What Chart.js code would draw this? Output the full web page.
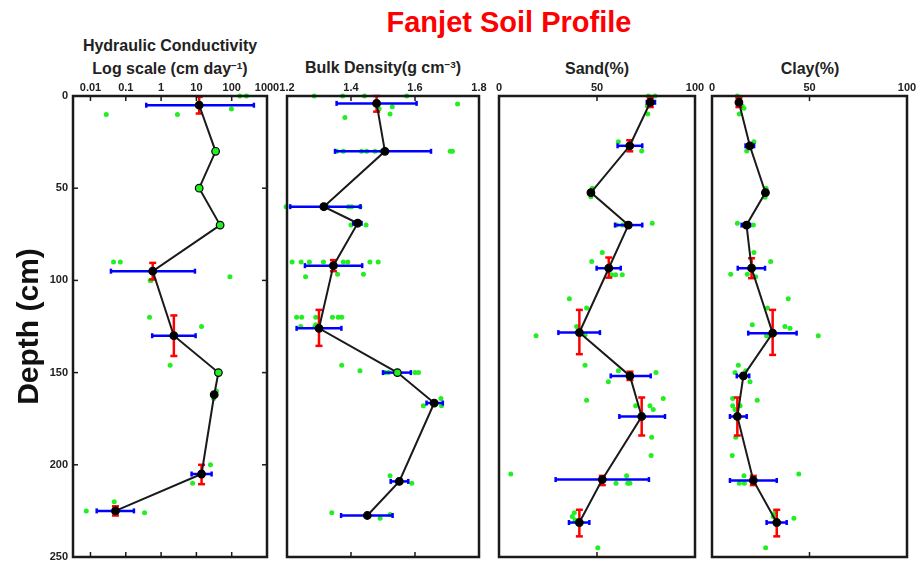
<!DOCTYPE html>
<html>
<head>
<meta charset="utf-8">
<script src="https://cdn.jsdelivr.net/npm/chart.js@4.4.1/dist/chart.umd.min.js"></script>
<style>
  body { margin: 0; width: 920px; height: 562px; overflow: hidden; background: #fff; position: relative;
         font-family: "Liberation Sans", Arial, sans-serif; }
  canvas { position: absolute; top: 0; }
  .t { position: absolute; font-weight: bold; white-space: nowrap; color: #222; line-height: 1;
       transform: translate(-50%, -50%); }
  .t sup { font-size: 0.62em; vertical-align: 0.55em; line-height: 0; }
  #main { color: #ff0000; font-size: 29px; }
  .h { font-size: 16px; }
</style>
</head>
<body>
<div class="t" id="main" style="left:509px;top:22px">Fanjet Soil Profile</div>
<div class="t h" style="left:170px;top:46px">Hydraulic Conductivity</div>
<div class="t h" style="left:170px;top:69px">Log scale (cm day<sup>−1</sup>)</div>
<div class="t h" style="left:383px;top:68px">Bulk Density(g cm<sup>−3</sup>)</div>
<div class="t h" style="left:597px;top:69px">Sand(%)</div>
<div class="t h" style="left:810px;top:69px">Clay(%)</div>

<canvas id="hc" width="282" height="580" style="left:0px"></canvas>
<canvas id="bd" width="232" height="580" style="left:267px"></canvas>
<canvas id="sand" width="236" height="580" style="left:479px"></canvas>
<canvas id="clay" width="228" height="580" style="left:692px"></canvas>

<script>
// depth axis (cm), shared by all panels
const depthTicks = [0, 50, 100, 150, 200, 250];

// Hydraulic conductivity (cm/day, log scale)
const hcTicks = [0.01, 0.1, 1, 10, 100, 1000];
const hcDepth = [5, 30, 50, 70, 95, 130, 150, 162, 205, 225];
const hcMean = [12, 35, 12, 47, 0.58, 2.3, 42, 32, 14, 0.051];
const hcLow = [0.38, null, null, null, 0.038, 0.56, null, null, 7.3, 0.015];
const hcHigh = [425, null, null, null, 9.1, 9.5, null, null, 27, 0.17];
const hcDepthLow = [0.5, null, null, null, 90.5, 119, null, null, 200, 222.5];
const hcDepthHigh = [9.5, null, null, null, 99.5, 141, null, null, 210.5, 227.5];
const hcGreenMean = [1, 2, 3, 6];
const hcDotDepth = [0, 0, 10, 10, 7, 90, 90, 100, 100, 98, 120, 125, 146, 160, 164, 200, 210, 220, 225, 226, 226];
const hcDotValue = [170, 260, 0.028, 2.9, 98, 0.045, 0.07, 0.49, 0.52, 89, 0.47, 14, 1.8, 37, 31, 25, 7.8, 0.047, 0.0076, 0.051, 0.34];

// Bulk density (g/cm3)
const bdTicks = [1.2, 1.4, 1.6, 1.8];
const bdDepth = [4, 30, 60, 69, 92, 126, 150, 166.5, 209, 227.5];
const bdMean = [1.48, 1.506, 1.315, 1.421, 1.345, 1.30, 1.545, 1.66, 1.551, 1.451];
const bdLow = [1.355, 1.35, 1.21, 1.407, 1.256, 1.23, 1.50, 1.636, 1.524, 1.369];
const bdHigh = [1.605, 1.65, 1.43, 1.433, 1.435, 1.37, 1.587, 1.687, 1.579, 1.53];
const bdDepthLow = [0, null, null, null, 89, 116, null, null, null, null];
const bdDepthHigh = [8.5, null, null, null, 95, 135.5, null, null, null, null];
const bdGreenMean = [6];
const bdDotDepth = [0, 0, 0, 0, 4.3, 5.8, 6.9, 9.8, 11.7,
  30, 30, 30, 30, 30, 30, 30, 30,
  60, 60, 60, 60, 60, 70, 70, 69,
  90, 90, 90, 90, 90, 90, 90, 90, 98, 96.7, 96.7,
  120, 120, 120, 120, 120, 120, 124, 125, 125,
  146, 149, 150, 150, 150, 150, 164, 168, 168, 206, 210, 226, 227, 229];
const bdDotValue = [1.285, 1.374, 1.442, 1.574, 1.733, 1.529, 1.488, 1.522, 1.381,
  1.355, 1.376, 1.433, 1.449, 1.475, 1.496, 1.71, 1.717,
  1.197, 1.327, 1.392, 1.402, 1.428, 1.40, 1.447, 1.415,
  1.216, 1.244, 1.27, 1.314, 1.376, 1.39, 1.459, 1.485, 1.258, 1.358, 1.439,
  1.23, 1.246, 1.29, 1.342, 1.36, 1.371, 1.29, 1.243, 1.287,
  1.371, 1.428, 1.506, 1.517, 1.6, 1.611, 1.681, 1.626, 1.683, 1.522, 1.59, 1.34, 1.522, 1.491];

// Sand (%)
const pctTicks = [0, 50, 100];
const sandDepth = [3.4, 27, 52.4, 70, 93.4, 128.3, 151.8, 173.8, 208, 231.3];
const sandMean = [77.2, 66.7, 46.9, 66, 56, 41, 66.8, 72.8, 52.7, 41];
const sandLow = [75.4, 60.5, null, 59.2, 49.8, 30.3, 57, 61.4, 28.9, 35.7];
const sandHigh = [79.6, 73.1, null, 73.1, 62.1, 51.5, 77.4, 84.7, 76.5, 46.1];
const sandDepthLow = [1, 24, null, null, 87.6, 116, 149.5, 163.5, 206, 224.4];
const sandDepthHigh = [6, 30, null, null, 98.5, 140, 154, 184.1, 211, 238.8];
const sandDotDepth = [0, 0, 5.4, 9.8, 24.8, 29.8, 50, 54.6, 69.9, 69.9, 69, 84.9, 89.8, 97, 97, 97, 110, 115,
  125, 129.5, 130, 146, 149, 150, 155, 165, 164, 168, 168, 170, 185, 195, 205, 206, 210, 210, 210, 226, 228, 230, 245];
const sandDotValue = [76.2, 79.6, 75.7, 75.9, 60.9, 72.8, 47.6, 46.9, 60, 63.1, 78.2, 52.7, 47.3, 57.5, 59.5, 62.9, 35.9, 44.7,
  39.6, 43.9, 18.9, 43.9, 60.9, 80.1, 55.8, 44.7, 83.8, 69.7, 77, 78.7, 77.9, 77.6, 6, 65.1, 59.7, 65.7, 66.8, 38.4, 37.4, 38.8, 50.4];

// Clay (%)
const clayDepth = [3.4, 27, 52.4, 70, 93.4, 128.6, 151.8, 173.8, 208.5, 231.3];
const clayMean = [13.8, 19.4, 27.4, 17.7, 20.3, 31.1, 16.1, 13, 21.2, 33.2];
const clayLow = [null, 17.2, null, 15.2, 13.2, 18.6, 12.7, 9.2, 9.2, 28];
const clayHigh = [null, 21.6, null, 19.5, 27.2, 43.4, 19.1, 17.8, 33.2, 38.3];
const clayDepthLow = [1, null, null, null, 88, 116, null, 163.5, 206, 224.4];
const clayDepthHigh = [6, null, null, null, 98.8, 140.4, null, 184.1, 211, 238.8];
const clayDotDepth = [0, 5.4, 6.7, 9.8, 24.8, 29.8, 50, 54.9, 69, 69.9, 84.9, 89.8, 96.7, 96.7, 98, 110, 115, 124, 125, 126,
  130, 130, 146, 150, 149, 155, 164, 165, 168, 168, 170, 185, 195, 205, 206, 210, 210, 226, 228, 229, 245];
const clayDotValue = [13, 15.5, 16.4, 14, 21.5, 17.8, 27.7, 27.2, 13, 21.2, 21.5, 30.1, 9.6, 18.1, 22.4, 39.1, 28.4, 20.7, 37.4, 40,
  54.5, 28, 13.5, 11.8, 17.3, 19.5, 10.6, 23.2, 10.6, 14.4, 11.8, 12.2, 10.4, 44.5, 16.4, 14, 16.6, 32.3, 31.4, 42, 27.5];

const GREEN = "#22ee22";
const INK = "#1a1a1a";
Chart.defaults.font.family = '"Liberation Sans", Arial, sans-serif';

const line = (ctx, x1, y1, x2, y2) => {
  ctx.beginPath();
  ctx.moveTo(x1, y1);
  ctx.lineTo(x2, y2);
  ctx.stroke();
};

// error bars drawn under the mean line, frame and inward ticks on top
const makePanelPlugin = (p) => ({
  id: "panel-" + p.id,
  beforeDatasetDraw(chart, args) {
    if (args.index !== 0) return;
    const { ctx, scales: { x, y } } = chart;
    ctx.save();
    ctx.lineWidth = 2.5;
    ctx.strokeStyle = "#0000ff";
    p.depth.forEach((d, i) => {
      if (p.low[i] == null) return;
      const py = y.getPixelForValue(d);
      const x1 = x.getPixelForValue(p.low[i]);
      const x2 = x.getPixelForValue(p.high[i]);
      line(ctx, x1, py, x2, py);
      line(ctx, x1, py - 2.5, x1, py + 2.5);
      line(ctx, x2, py - 2.5, x2, py + 2.5);
    });
    ctx.strokeStyle = "#ff0000";
    p.depth.forEach((d, i) => {
      if (p.depthLow[i] == null) return;
      const px = x.getPixelForValue(p.mean[i]);
      const y1 = y.getPixelForValue(p.depthLow[i]);
      const y2 = y.getPixelForValue(p.depthHigh[i]);
      line(ctx, px, y1, px, y2);
      line(ctx, px - 3.5, y1, px + 3.5, y1);
      line(ctx, px - 3.5, y2, px + 3.5, y2);
    });
    ctx.restore();
  },
  afterDraw(chart) {
    const { ctx, chartArea: a, scales: { x, y } } = chart;
    ctx.save();
    ctx.strokeStyle = INK;
    ctx.lineWidth = 1.5;
    p.ticks.forEach((v) => {
      const px = x.getPixelForValue(v);
      if (px <= a.left + 2 || px >= a.right - 2) return;
      line(ctx, px, a.top, px, a.top + 5);
      line(ctx, px, a.bottom - 5, px, a.bottom);
    });
    if (p.showDepth) {
      depthTicks.forEach((d) => {
        const py = y.getPixelForValue(d);
        if (py <= a.top + 2 || py >= a.bottom - 2) return;
        line(ctx, a.left, py, a.left + 5, py);
        line(ctx, a.right - 5, py, a.right, py);
      });
    }
    ctx.lineWidth = 2.5;
    ctx.strokeRect(a.left, a.top, a.right - a.left, a.bottom - a.top);
    ctx.restore();
  },
});

const tickFont = { size: 11, weight: "bold" };

const makePanel = (p) => {
  new Chart(document.getElementById(p.id), {
    type: "scatter",
    data: {
      datasets: [
        {
          data: p.depth.map((d, i) => ({ x: p.mean[i], y: d })),
          showLine: true,
          borderColor: INK,
          borderWidth: 2,
          pointRadius: 3.8,
          pointBackgroundColor: p.depth.map((_, i) => (p.greenMean.includes(i) ? GREEN : "#000")),
          pointBorderColor: "#000",
          pointBorderWidth: 1.2,
          clip: false,
        },
        {
          data: p.dotDepth.map((d, i) => ({ x: p.dotValue[i], y: d })),
          pointRadius: 2.5,
          pointBackgroundColor: GREEN,
          pointBorderWidth: 0,
          clip: false,
        },
      ],
    },
    options: {
      responsive: false,
      animation: false,
      events: [],
      layout: { padding: { top: 75, bottom: 23, left: p.padLeft, right: p.padRight } },
      plugins: { legend: { display: false }, tooltip: { enabled: false } },
      scales: {
        x: {
          type: p.log ? "logarithmic" : "linear",
          position: "top",
          min: p.min,
          max: p.max,
          afterBuildTicks: (s) => { s.ticks = p.ticks.map((v) => ({ value: v })); },
          afterFit: (s) => { s.height = 21; },
          grid: { display: false, drawTicks: false },
          border: { display: false },
          ticks: { font: tickFont, color: "#222", padding: 1, maxRotation: 0, autoSkip: false,
                   callback: (v) => String(v) },
        },
        y: {
          type: "linear",
          reverse: true,
          min: 0,
          max: 250,
          display: p.showDepth,
          afterBuildTicks: (s) => { s.ticks = depthTicks.map((v) => ({ value: v })); },
          afterFit: (s) => { s.width = p.showDepth ? 73 : 0; },
          grid: { display: false, drawTicks: false },
          border: { display: false },
          title: { display: true, text: "Depth (cm)", color: "#111",
                   font: { size: 30, weight: "bold" }, padding: { top: 12, bottom: 0 } },
          ticks: { font: tickFont, color: "#222", padding: 5 },
        },
      },
    },
    plugins: [makePanelPlugin(p)],
  });
};

makePanel({ id: "hc", log: true, min: 0.0032, max: 1000, ticks: hcTicks, showDepth: true, padLeft: 0, padRight: 15,
  depth: hcDepth, mean: hcMean, low: hcLow, high: hcHigh, depthLow: hcDepthLow, depthHigh: hcDepthHigh,
  greenMean: hcGreenMean, dotDepth: hcDotDepth, dotValue: hcDotValue });
makePanel({ id: "bd", log: false, min: 1.2, max: 1.8, ticks: bdTicks, showDepth: false, padLeft: 20, padRight: 20,
  depth: bdDepth, mean: bdMean, low: bdLow, high: bdHigh, depthLow: bdDepthLow, depthHigh: bdDepthHigh,
  greenMean: bdGreenMean, dotDepth: bdDotDepth, dotValue: bdDotValue });
makePanel({ id: "sand", log: false, min: 0, max: 100, ticks: pctTicks, showDepth: false, padLeft: 20, padRight: 20,
  depth: sandDepth, mean: sandMean, low: sandLow, high: sandHigh, depthLow: sandDepthLow, depthHigh: sandDepthHigh,
  greenMean: [], dotDepth: sandDotDepth, dotValue: sandDotValue });
makePanel({ id: "clay", log: false, min: 0, max: 100, ticks: pctTicks, showDepth: false, padLeft: 20, padRight: 13,
  depth: clayDepth, mean: clayMean, low: clayLow, high: clayHigh, depthLow: clayDepthLow, depthHigh: clayDepthHigh,
  greenMean: [], dotDepth: clayDotDepth, dotValue: clayDotValue });
</script>
</body>
</html>
